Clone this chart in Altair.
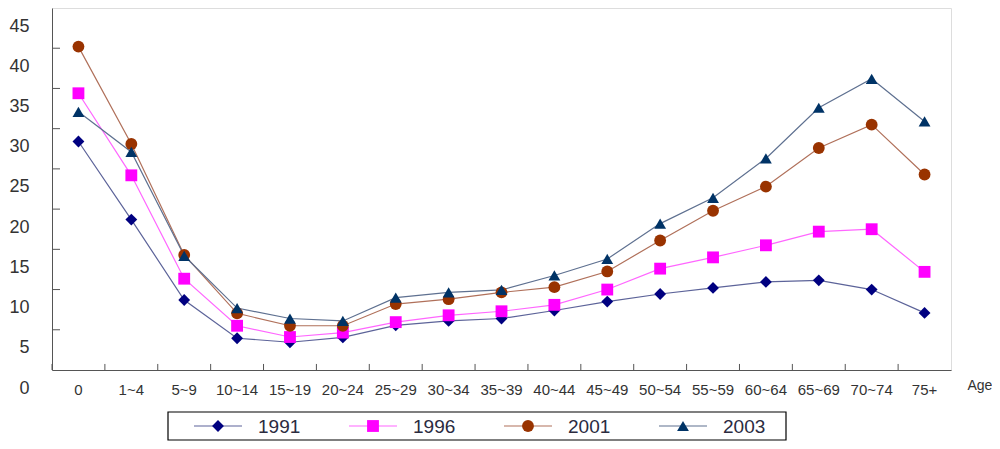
import altair as alt
import pandas as pd

ages = ["0", "1~4", "5~9", "10~14", "15~19", "20~24", "25~29", "30~34", "35~39",
        "40~44", "45~49", "50~54", "55~59", "60~64", "65~69", "70~74", "75+"]
years = ["1991", "1996", "2001", "2003"]

v1991 = [28.4, 18.7, 8.7, 3.95, 3.45, 4.05, 5.55, 6.1, 6.4, 7.4, 8.5, 9.45, 10.2, 10.95, 11.15, 10.0, 7.1]
v1996 = [34.4, 24.2, 11.35, 5.5, 4.1, 4.65, 5.95, 6.8, 7.3, 8.1, 10.0, 12.6, 14.0, 15.5, 17.2, 17.5, 12.2]
v2001 = [40.2, 28.1, 14.3, 7.05, 5.5, 5.5, 8.2, 8.8, 9.65, 10.3, 12.25, 16.1, 19.8, 22.8, 27.6, 30.5, 24.3]
v2003 = [32.1, 27.1, 14.2, 7.7, 6.4, 6.1, 9.0, 9.65, 9.95, 11.75, 13.8, 18.2, 21.4, 26.3, 32.6, 36.2, 30.9]

y_ticks = [0, 5, 10, 15, 20, 25, 30, 35, 40, 45]
inner_ticks = [5, 10, 15, 20, 25, 30, 35, 40]

marker_colors = ["#000080", "#FF00FF", "#993300", "#003366"]
line_colors = ["#5C6399", "#FF66FF", "#B0705A", "#5E7090"]
shapes = ["diamond", "square", "circle", "triangle-up"]

rows = []
for yr, vals in zip(years, [v1991, v1996, v2001, v2003]):
    for a, v in zip(ages, vals):
        rows.append({"age": a, "year": yr, "value": v})
df = pd.DataFrame(rows)

FONT = "Liberation Sans"
W, H = 899, 362

xscale = alt.Scale(type="band", domain=ages, paddingInner=0, paddingOuter=0)
yscale = alt.Scale(domain=[0, 45], nice=False, zero=True)
stroke_scale = alt.Scale(domain=years, range=line_colors)
fill_scale = alt.Scale(domain=years, range=marker_colors)
shape_scale = alt.Scale(domain=years, range=shapes)

x_axis = alt.Axis(title="Age", labelAngle=0, ticks=False, tickSize=0, labelPadding=12,
                  labelFontSize=15, labelColor="#333333", labelFont=FONT,
                  domainColor="#555555", grid=False,
                  titleX=915, titleY=15, titleAlign="left", titleBaseline="middle",
                  titleFontSize=14, titleFontWeight="normal", titleColor="#333333",
                  titleFont=FONT)
y_axis = alt.Axis(title=None, values=y_ticks, ticks=False, tickSize=0, labelPadding=23,
                  labelOffset=18, labelFontSize=18, labelColor="#333333", labelFont=FONT,
                  grid=False, domainColor="#555555")

base = alt.Chart(df)
lines = base.mark_line(strokeWidth=1.2).encode(
    x=alt.X("age:N", scale=xscale, sort=ages, axis=x_axis),
    y=alt.Y("value:Q", scale=yscale, axis=y_axis),
    stroke=alt.Stroke("year:N", scale=stroke_scale, legend=None),
    detail="year:N",
)
points = base.mark_point(filled=True, opacity=1, size=140, strokeWidth=0).encode(
    x=alt.X("age:N", scale=xscale, sort=ages),
    y=alt.Y("value:Q", scale=yscale),
    fill=alt.Fill("year:N", scale=fill_scale, legend=None),
    shape=alt.Shape("year:N", scale=shape_scale, legend=None),
)
xticks = alt.Chart(pd.DataFrame({"age": ages})).mark_rule(color="#555555").encode(
    x=alt.X("age:N", scale=xscale, sort=ages, bandPosition=0),
    y=alt.datum(0),
    y2=alt.datum(0.75),
)
yticks = alt.Chart(pd.DataFrame({"v": inner_ticks})).mark_rule(color="#555555").encode(
    y=alt.Y("v:Q", scale=yscale),
    x=alt.value(0),
    x2=alt.value(8),
)
main = alt.layer(lines, xticks, yticks, points)

leg_df = pd.DataFrame({"year": years, "slot": [0, 1, 2, 3]})
lx = alt.X("slot:Q", scale=alt.Scale(domain=[0, 3], range=[166, 631]), axis=None)
LY = 418
leg_box = alt.Chart(pd.DataFrame({"k": [0]})).mark_rect(
    fillOpacity=0, stroke="#000000", strokeWidth=1.2
).encode(x=alt.value(116), x2=alt.value(734), y=alt.value(404), y2=alt.value(432))
leg_lines = alt.Chart(leg_df).mark_rule(strokeWidth=1.2, xOffset=-24, x2Offset=24).encode(
    x=lx, x2="slot:Q", y=alt.value(LY),
    stroke=alt.Stroke("year:N", scale=stroke_scale, legend=None),
)
leg_pts = alt.Chart(leg_df).mark_point(filled=True, opacity=1, size=140, strokeWidth=0).encode(
    x=lx, y=alt.value(LY),
    fill=alt.Fill("year:N", scale=fill_scale, legend=None),
    shape=alt.Shape("year:N", scale=shape_scale, legend=None),
)
leg_text = alt.Chart(leg_df).mark_text(
    align="left", baseline="middle", dx=40, fontSize=19, font=FONT, color="#2b2b3f"
).encode(x=lx, y=alt.value(LY + 1), text="year:N")
legend = alt.layer(leg_box, leg_lines, leg_pts, leg_text)

chart = alt.layer(main, legend).resolve_scale(x="independent").properties(
    width=W, height=H, padding=0
).configure_view(stroke="#9a9a9a", strokeWidth=1).configure(font=FONT)

chart.save("out.html", embed_options={"renderer": "svg", "actions": False})
